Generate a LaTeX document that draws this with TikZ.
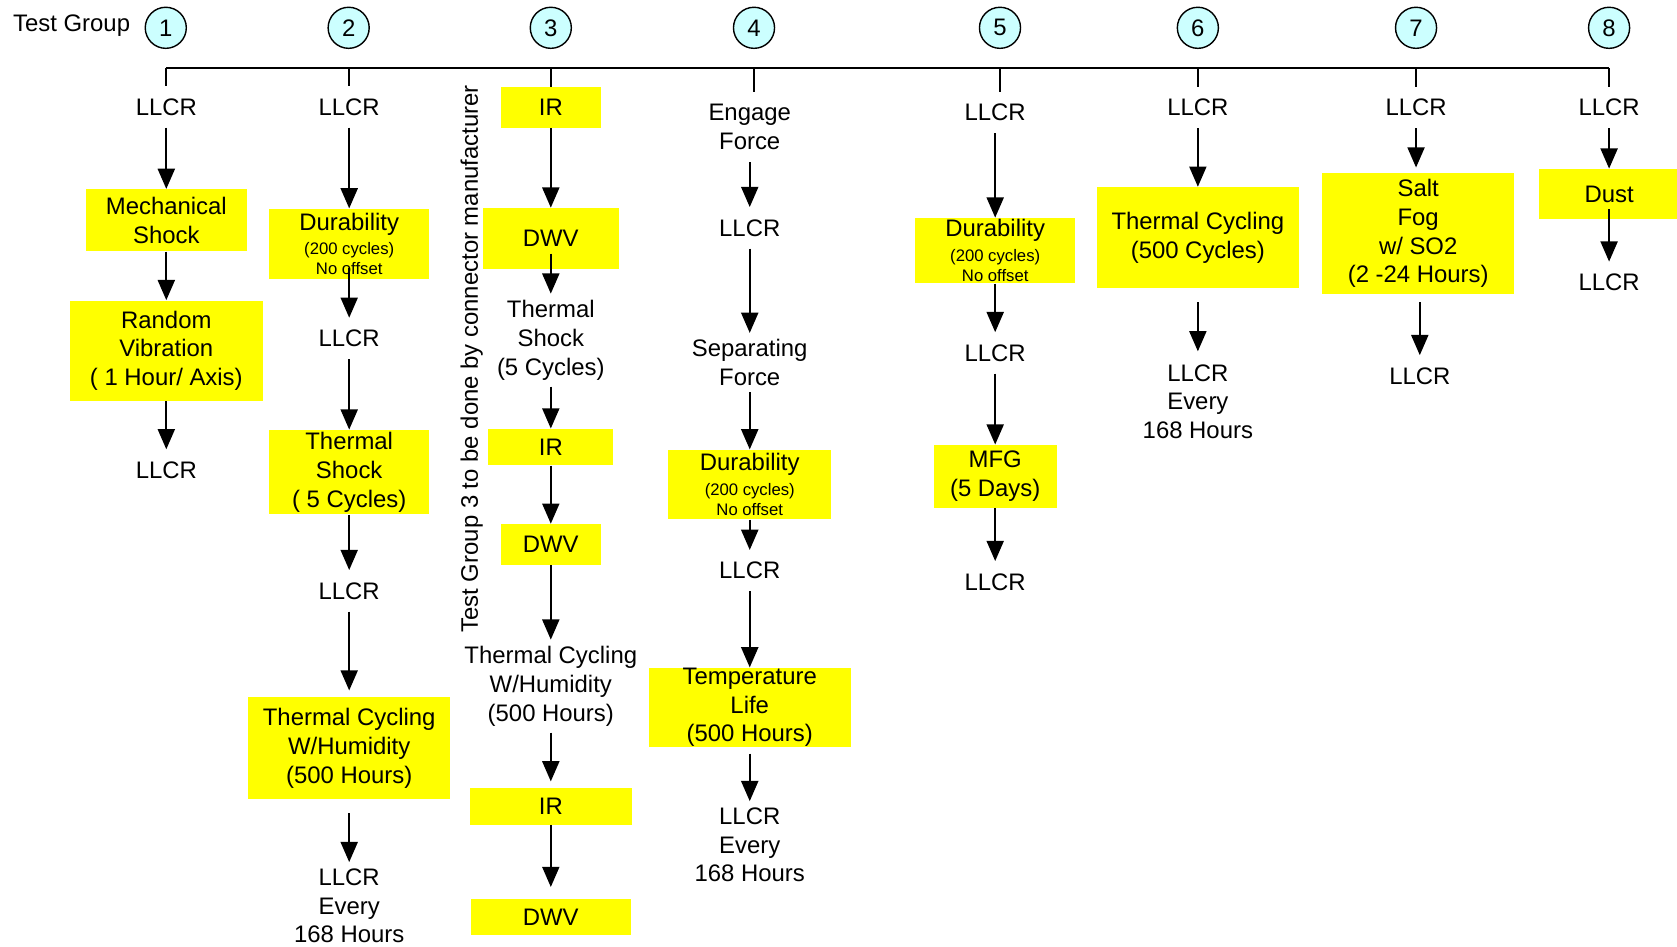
\documentclass[tikz,border=0pt]{standalone}
\usepackage{fontspec}
\setmainfont{Liberation Sans}
\usetikzlibrary{arrows.meta}
\definecolor{boxyellow}{RGB}{255,255,0}
\definecolor{grpcyan}{RGB}{204,255,255}
\newlength{\gp}
\setlength{\gp}{0.0214cm}
\newcommand{\smallfont}{\fontsize{9.5}{11.4}\selectfont}

\begin{document}
\begin{tikzpicture}[x=0.0214cm, y=-0.0214cm, font=\fontsize{13.6}{16.4}\selectfont,
  grp/.style={draw, circle, fill=grpcyan, line width=0.8pt, minimum size=38.4*\gp, inner sep=0pt},
  box/.style 2 args={fill=boxyellow, align=center, inner sep=0pt, minimum width=#1*\gp, minimum height=#2*\gp},
  llcr/.style={align=center, inner xsep=2pt, inner ysep=6.8pt},
  txt/.style={align=center, inner xsep=2pt, inner ysep=3.5pt},
  link/.style={line width=1.1pt},
  arr/.style={-{Triangle[length=11.5pt,width=9.7pt]}, line width=1.1pt}]
\useasboundingbox (0,0) rectangle (1568,885);

% Header
\node[anchor=west, inner sep=0pt] (tg) at (12,24) {Test Group};
\node[grp] (g1) at (155,26) {1};
\node[grp] (g2) at (326,26) {2};
\node[grp] (g3) at (515,26) {3};
\node[grp] (g4) at (705,26) {4};
\node[grp] (g5) at (935,26) {5};
\node[grp] (g6) at (1120,26) {6};
\node[grp] (g7) at (1324,26) {7};
\node[grp] (g8) at (1504.5,26) {8};
\coordinate (rail) at (0,63.5);

% Group 1
\node[llcr] (l1a) at (155.5,100) {LLCR};
\node[box={151}{58}] (mshock) at (155.5,206) {Mechanical\\Shock};
\node[box={180}{94}] (rvib) at (155.5,328) {Random\\Vibration\\( 1 Hour/ Axis)};
\node[llcr] (l1b) at (155.5,439.5) {LLCR};

% Group 2
\node[llcr] (l2a) at (326.5,100) {LLCR};
\node[box={150}{66}] (dur2) at (326.5,228.2) {Durability\\[-2.4pt]\smallfont (200 cycles)\\[-5pt]\smallfont No offset};
\node[llcr] (l2b) at (326.5,316.5) {LLCR};
\node[box={150}{79}] (tsh2) at (326.5,441.5) {Thermal\\Shock\\( 5 Cycles)};
\node[llcr] (l2c) at (326.5,552.4) {LLCR};
\node[box={189}{95}] (tcy2) at (326.5,699.5) {Thermal Cycling\\W/Humidity\\(500 Hours)};
\node[txt] (l2d) at (326.5,847) {LLCR\\Every\\168 Hours};

% Group 3
\node[box={94}{38}] (ir3a) at (515,100.5) {IR};
\node[box={127}{57}] (dwv3a) at (515,223) {DWV};
\node[txt] (tsh3) at (515,318) {Thermal\\Shock\\(5 Cycles)};
\node[box={117}{34}] (ir3b) at (515,418) {IR};
\node[box={94}{38}] (dwv3b) at (515,509) {DWV};
\node[txt] (tcy3) at (515,641.5) {Thermal Cycling\\W/Humidity\\(500 Hours)};
\node[box={151}{34}] (ir3c) at (515,754) {IR};
\node[box={150}{34}] (dwv3c) at (515,857.5) {DWV};
\node[rotate=90] (note3) at (441,335.5) {Test Group 3 to be done by connector manufacturer};

% Group 4
\node[llcr] (ef4) at (701,119) {Engage\\Force};
\node[llcr] (l4a) at (701,213) {LLCR};
\node[txt] (sf4) at (701,339) {Separating\\Force};
\node[box={152}{65}] (dur4) at (701,453) {Durability\\[-2.4pt]\smallfont (200 cycles)\\[-5pt]\smallfont No offset};
\node[llcr] (l4b) at (701,533.6) {LLCR};
\node[box={189}{72}] (tl4) at (701,661.3) {Temperature\\Life\\(500 Hours)};
\node[txt] (l4c) at (701,790) {LLCR\\Every\\168 Hours};

% Group 5
\node[llcr] (l5a) at (930.5,105) {LLCR};
\node[box={150}{61}] (dur5) at (930.5,234.3) {Durability\\[-2.4pt]\smallfont (200 cycles)\\[-5pt]\smallfont No offset};
\node[llcr] (l5b) at (930.5,330) {LLCR};
\node[box={115}{59}] (mfg5) at (930.5,445.5) {MFG\\(5 Days)};
\node[llcr] (l5c) at (930.5,544) {LLCR};

% Group 6
\node[llcr] (l6a) at (1120,100.7) {LLCR};
\node[box={189}{94.5}] (tcy6) at (1120,222.2) {Thermal Cycling\\(500 Cycles)};
\node[txt] (l6b) at (1120,375.5) {LLCR\\Every\\168 Hours};

% Group 7
\node[llcr] (l7a) at (1324,100.7) {LLCR};
\node[box={180}{113}] (salt7) at (1326,218.4) {Salt\\Fog\\w/ SO2\\(2 -24 Hours)};
\node[llcr] (l7b) at (1327.5,351.5) {LLCR};

% Group 8
\node[llcr] (l8a) at (1504.5,100.7) {LLCR};
\node[box={131}{47}] (dust8) at (1504.5,181.5) {Dust};
\node[llcr] (l8b) at (1504.5,264) {LLCR};

% Rail and drops
\draw[link] (g1 |- rail) -- (g8 |- rail);
\draw[link] (g1 |- rail) -- (g1 |- l1a.north);
\draw[link] (g2 |- rail) -- (g2 |- l2a.north);
\draw[link] (g3 |- rail) -- (g3 |- ir3a.north);
\draw[link] (g4 |- rail) -- (g4 |- ef4.north);
\draw[link] (g5 |- rail) -- (g5 |- l5a.north);
\draw[link] (g6 |- rail) -- (g6 |- l6a.north);
\draw[link] (g7 |- rail) -- (g7 |- l7a.north);
\draw[link] (g8 |- rail) -- (g8 |- l8a.north);

% Flow arrows
\draw[arr] (l1a) -- (mshock);
\draw[arr] (mshock) -- (rvib);
\draw[arr] (rvib) -- (l1b);

\draw[arr] (l2a) -- (dur2);
\draw[arr] ([yshift=6.4pt]dur2.south) -- (l2b);
\draw[arr] (l2b) -- (tsh2);
\draw[arr] (tsh2) -- (l2c);
\draw[arr, shorten >=3.7pt] (l2c) -- (tcy2);
\draw[arr, shorten <=7.9pt] (tcy2) -- (l2d);

\draw[arr] (ir3a) -- (dwv3a);
\draw[arr] ([yshift=9pt]dwv3a.south) -- (tsh3);
\draw[arr] (tsh3) -- (ir3b);
\draw[arr] (ir3b) -- (dwv3b);
\draw[arr] (dwv3b) -- (tcy3);
\draw[arr, shorten >=3.7pt] (tcy3) -- (ir3c);
\draw[arr, shorten >=6.6pt] (ir3c) -- (dwv3c);

\draw[arr] (ef4) -- (l4a);
\draw[arr] (l4a) -- (sf4);
\draw[arr] (sf4) -- (dur4);
\draw[arr] (dur4) -- (l4b);
\draw[arr] (l4b) -- (tl4);
\draw[arr, shorten <=3.7pt] (tl4) -- (l4c);

\draw[arr] (l5a) -- (dur5);
\draw[arr] (dur5) -- (l5b);
\draw[arr] (l5b) -- (mfg5);
\draw[arr] (mfg5) -- (l5c);

\draw[arr] (l6a) -- (tcy6);
\draw[arr, shorten <=7.9pt, shorten >=3.7pt] (tcy6) -- (l6b);

\draw[arr, shorten >=3pt] (l7a) -- (l7a |- salt7.north);
\draw[arr, shorten <=4.6pt] (l7b |- salt7.south) -- (l7b);

\draw[arr] (l8a) -- (dust8);
\draw[arr] ([yshift=6pt]dust8.south) -- (l8b);
\end{tikzpicture}
\end{document}
